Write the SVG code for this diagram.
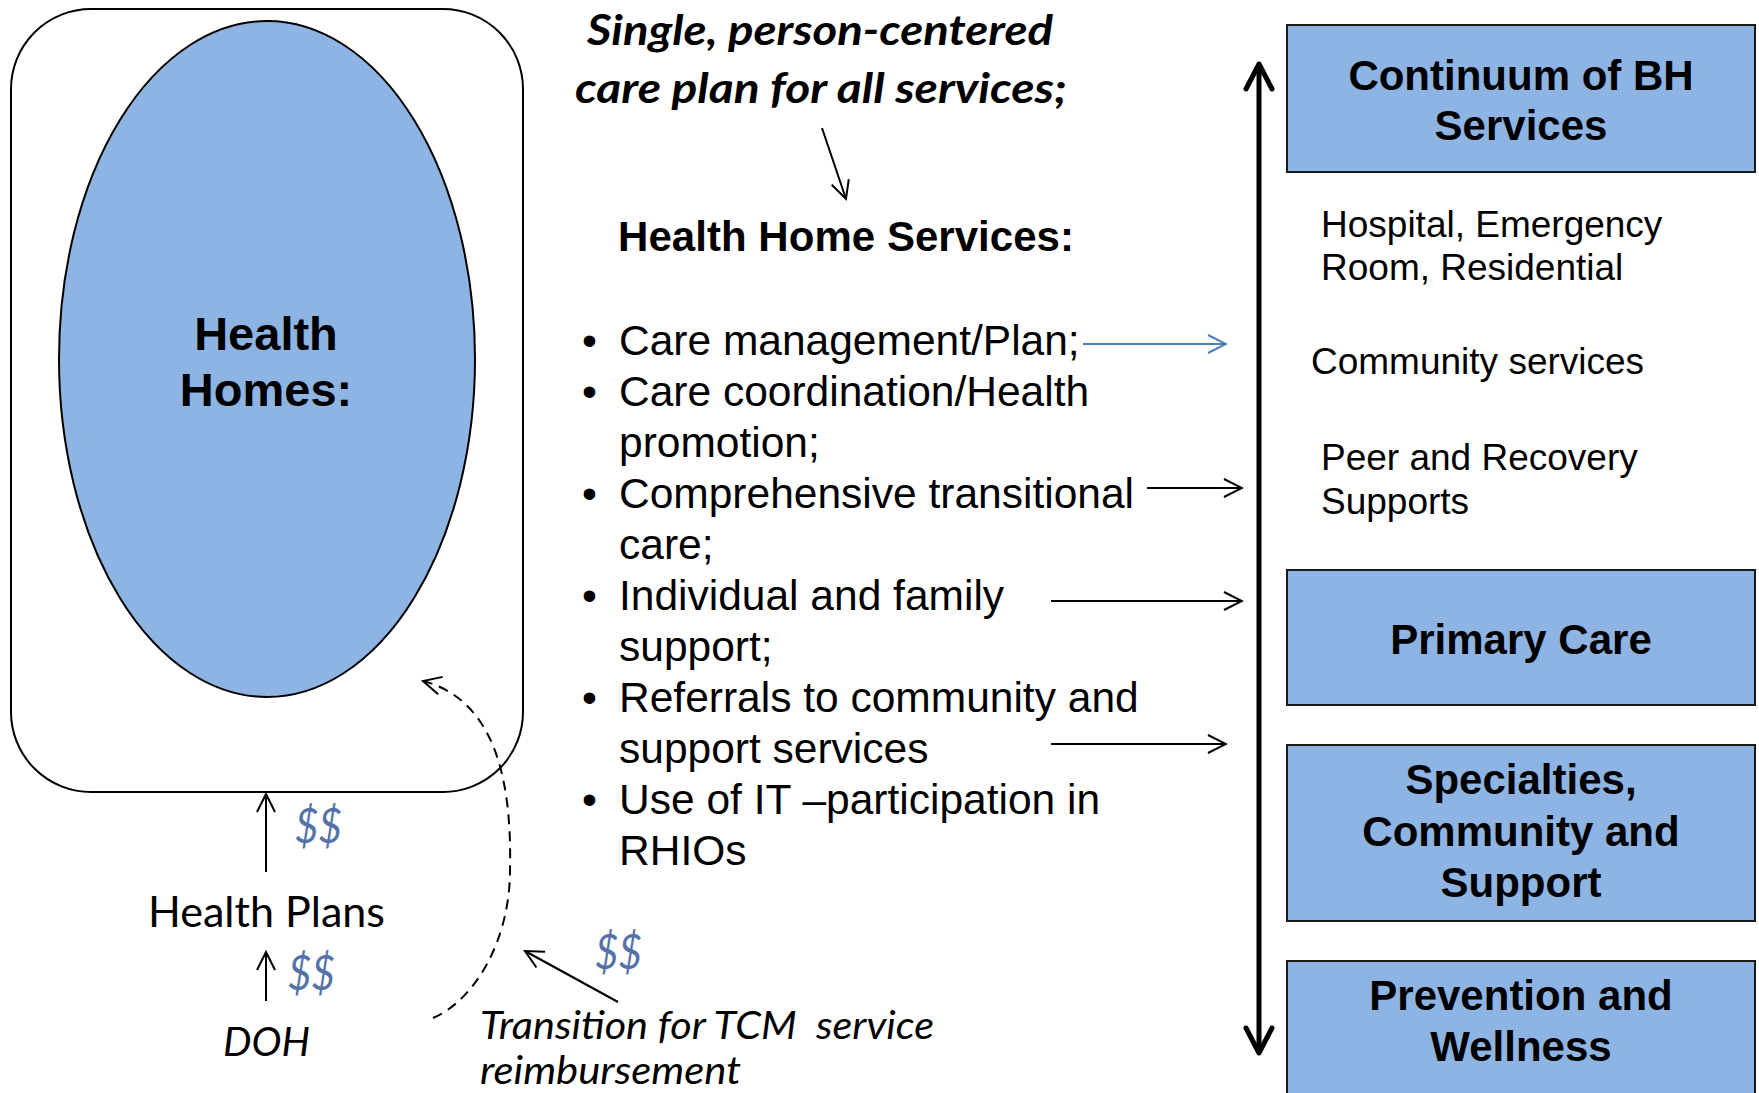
<svg xmlns="http://www.w3.org/2000/svg" width="1759" height="1093" viewBox="0 0 1759 1093">
<style>
.ar{font-family:"Liberation Sans",Arial,sans-serif;fill:#000}
.b{font-weight:bold}
.cal{font-family:Lato,"Open Sans",sans-serif;fill:#000}
.it{font-style:italic}
.money{font-family:Lato,"Open Sans",sans-serif;font-style:italic;fill:#5472A8;font-size:49px}
.box{fill:#8EB4E3;stroke:#1a1a1a;stroke-width:2}
.ln{fill:none;stroke:#000;stroke-width:2}
</style>
<defs>
<marker id="open" markerUnits="userSpaceOnUse" viewBox="0 0 22 22" markerWidth="22" markerHeight="22" refX="20" refY="11" orient="auto">
<path d="M2,2 L20,11 L2,20" fill="none" stroke="#000" stroke-width="2"/>
</marker>
<marker id="openBlue" markerUnits="userSpaceOnUse" viewBox="0 0 22 22" markerWidth="22" markerHeight="22" refX="20" refY="11" orient="auto">
<path d="M2,2 L20,11 L2,20" fill="none" stroke="#4A7EBB" stroke-width="2"/>
</marker>
<marker id="thick" markerUnits="userSpaceOnUse" viewBox="-30 -17 34 34" markerWidth="34" markerHeight="34" refX="0" refY="0" orient="auto-start-reverse">
<path d="M-25,-13 L0,0 L-25,13" fill="none" stroke="#000" stroke-width="5" stroke-linecap="round" stroke-linejoin="round"/>
</marker>
</defs>
<rect width="1759" height="1093" fill="#fff"/>

<g id="health-homes">
<rect x="11" y="9" width="512" height="783" rx="80" ry="80" fill="#fff" stroke="#000" stroke-width="2"/>
<ellipse cx="267" cy="359" rx="208" ry="338" fill="#8EB4E3" stroke="#000" stroke-width="2"/>
<text class="ar b" font-size="47" text-anchor="middle" x="266" y="350">Health</text>
<text class="ar b" font-size="47" text-anchor="middle" x="266" y="406">Homes:</text>
</g>

<g id="care-plan">
<text class="cal b it" font-size="42" x="587" y="45" textLength="466" lengthAdjust="spacingAndGlyphs">Single, person-centered</text>
<text class="cal b it" font-size="42" x="575" y="103" textLength="492" lengthAdjust="spacingAndGlyphs">care plan for all services;</text>
</g>

<g id="hh-services">
<text class="ar b" font-size="42" x="618" y="251" textLength="456">Health Home Services:</text>
<g class="ar" font-size="42.5">
<text x="582" y="355">•</text><text x="619" y="355">Care management/Plan;</text>
<text x="582" y="406">•</text><text x="619" y="406">Care coordination/Health</text>
<text x="619" y="457">promotion;</text>
<text x="582" y="508">•</text><text x="619" y="508">Comprehensive transitional</text>
<text x="619" y="559">care;</text>
<text x="582" y="610">•</text><text x="619" y="610">Individual and family</text>
<text x="619" y="661">support;</text>
<text x="582" y="712">•</text><text x="619" y="712">Referrals to community and</text>
<text x="619" y="763">support services</text>
<text x="582" y="814">•</text><text x="619" y="814">Use of IT –participation in</text>
<text x="619" y="865">RHIOs</text>
</g>
</g>

<g id="continuum-bh">
<rect class="box" x="1287" y="25" width="468" height="147"/>
<text class="ar b" font-size="42" text-anchor="middle" x="1521" y="90">Continuum of BH</text>
<text class="ar b" font-size="42" text-anchor="middle" x="1521" y="140">Services</text>
</g>
<g id="bh-levels" class="ar" font-size="37">
<text x="1321" y="237">Hospital, Emergency</text>
<text x="1321" y="280">Room, Residential</text>
<text x="1311" y="374">Community services</text>
<text x="1321" y="470">Peer and Recovery</text>
<text x="1321" y="514">Supports</text>
</g>
<g id="primary-care">
<rect class="box" x="1287" y="570" width="468" height="135"/>
<text class="ar b" font-size="42" text-anchor="middle" x="1521" y="654">Primary Care</text>
</g>
<g id="specialties">
<rect class="box" x="1287" y="745" width="468" height="176"/>
<text class="ar b" font-size="42" text-anchor="middle" x="1521" y="794">Specialties,</text>
<text class="ar b" font-size="42" text-anchor="middle" x="1521" y="846">Community and</text>
<text class="ar b" font-size="42" text-anchor="middle" x="1521" y="897">Support</text>
</g>
<g id="prevention">
<rect class="box" x="1287" y="961" width="468" height="140"/>
<text class="ar b" font-size="42" text-anchor="middle" x="1521" y="1010">Prevention and</text>
<text class="ar b" font-size="42" text-anchor="middle" x="1521" y="1061">Wellness</text>
</g>

<g id="funding">
<text class="cal" font-size="43" x="148" y="927" textLength="237" lengthAdjust="spacingAndGlyphs">Health Plans</text>
<text class="cal it" font-size="41" x="223" y="1056" textLength="87" lengthAdjust="spacingAndGlyphs">DOH</text>
<text class="money" x="295" y="843" textLength="47" lengthAdjust="spacingAndGlyphs">$$</text>
<text class="money" x="288" y="990" textLength="47" lengthAdjust="spacingAndGlyphs">$$</text>
<text class="money" x="595" y="969" textLength="47" lengthAdjust="spacingAndGlyphs">$$</text>
<text class="cal it" font-size="39" x="480" y="1039" textLength="454" lengthAdjust="spacingAndGlyphs" style="white-space:pre">Transition for TCM  service</text>
<text class="cal it" font-size="39" x="480" y="1084" textLength="261" lengthAdjust="spacingAndGlyphs">reimbursement</text>
</g>

<g id="connectors">
<line class="ln" x1="822" y1="128" x2="846" y2="199" marker-end="url(#open)"/>
<line x1="1083" y1="344" x2="1226" y2="344" stroke="#4A7EBB" stroke-width="2" marker-end="url(#openBlue)"/>
<line class="ln" x1="1147" y1="488" x2="1242" y2="488" marker-end="url(#open)"/>
<line class="ln" x1="1051" y1="601" x2="1242" y2="601" marker-end="url(#open)"/>
<line class="ln" x1="1051" y1="744" x2="1226" y2="744" marker-end="url(#open)"/>
<line x1="1259" y1="64" x2="1259" y2="1053" stroke="#000" stroke-width="5" marker-start="url(#thick)" marker-end="url(#thick)"/>
<line class="ln" x1="266" y1="872" x2="266" y2="794" marker-end="url(#open)"/>
<line class="ln" x1="266" y1="1001" x2="266" y2="952" marker-end="url(#open)"/>
<line class="ln" x1="618" y1="1002" x2="525" y2="951" marker-end="url(#open)"/>
<path class="ln" d="M433,1018 C475,1000 510,940 510,870 C512,780 495,700 423,681" stroke-dasharray="10,7" marker-end="url(#open)"/>
</g>
</svg>
